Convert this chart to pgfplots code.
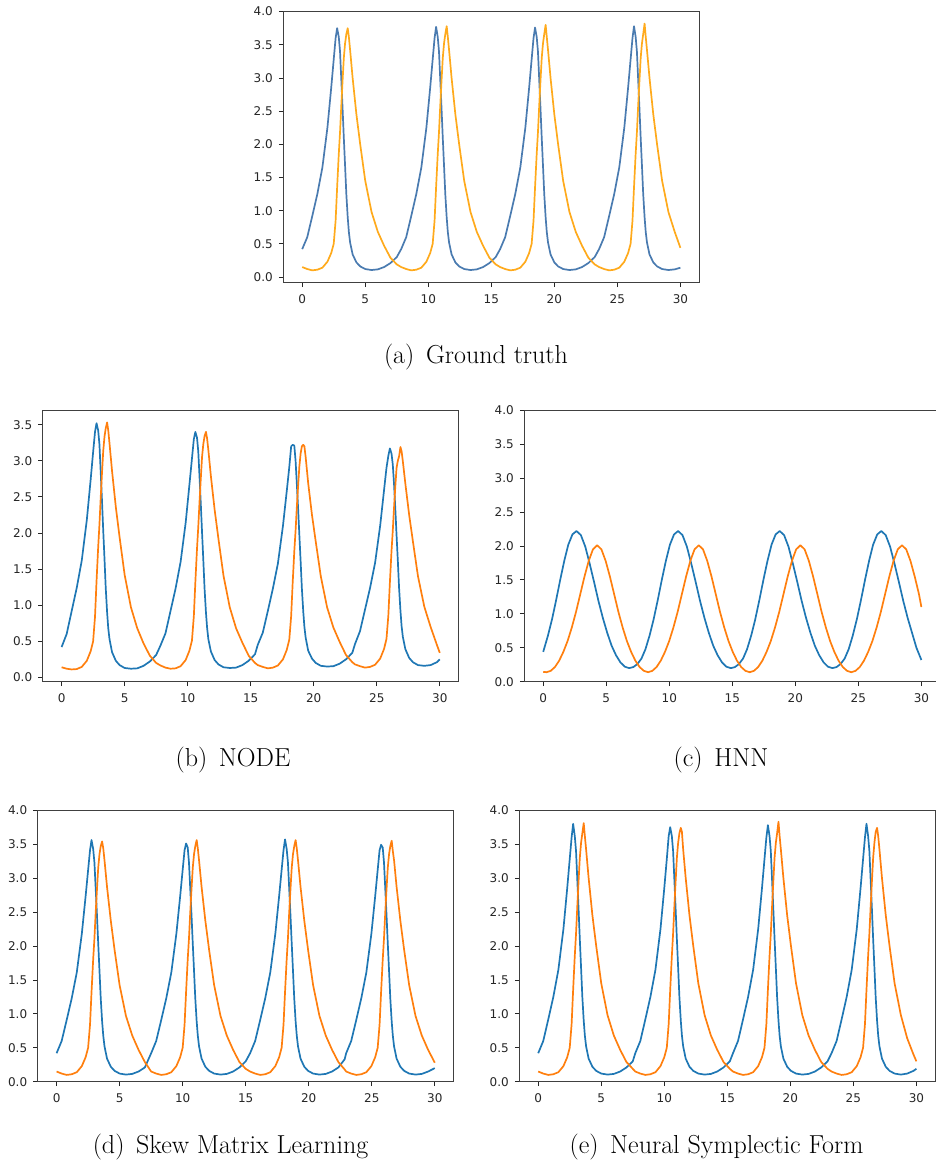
\documentclass[border=0pt]{standalone}
\usepackage{fontspec}
\usepackage{pgfplots}
\pgfplotsset{compat=1.18}
\newfontfamily\dejavu{DejaVu Sans}
\definecolor{bA}{HTML}{4A7BB0}
\definecolor{oA}{HTML}{FFAA1C}
\definecolor{bB}{HTML}{1F77B4}
\definecolor{oB}{HTML}{FF7F0E}
\pgfplotsset{
 myax/.style={
  scale only axis, width=416pt, height=271.5pt,
  xmin=-1.5, xmax=31.5,
  xtick={0,5,10,15,20,25,30},
  ytick={0,0.5,1,1.5,2,2.5,3,3.5,4},
  xtick pos=bottom, ytick pos=left,
  tick align=outside, major tick length=4.5pt,
  xticklabel shift=4pt, yticklabel shift=2.5pt,
  tick style={black!85, line width=0.8pt},
  axis line style={black!75, line width=0.9pt},
  tick label style={font=\dejavu\fontsize{12}{14}\selectfont, text=black!85},
  /pgf/number format/assume math mode=true,
  yticklabel style={/pgf/number format/fixed, /pgf/number format/fixed zerofill, /pgf/number format/precision=1},
  every axis plot/.append style={line width=1.7pt, line join=round, no marks},
  clip=true,
 }
}
\begin{document}
\begin{tikzpicture}
% (a) Ground truth
\begin{axis}[myax, at={(283.3pt,-282.7pt)}, anchor=south west, ymin=-0.086, ymax=4.006]
\addplot[bA] coordinates {(0,0.42)(0.4,0.60)(0.8,0.92)(1.2,1.25)(1.6,1.65)(2.0,2.25)(2.3,2.85)(2.5,3.28)(2.65,3.60)(2.77,3.75)(2.9,3.62)(3.0,3.40)(3.1,2.98)(3.2,2.55)(3.3,2.10)(3.4,1.68)(3.5,1.25)(3.61,0.90)(3.7,0.68)(3.8,0.52)(4.0,0.34)(4.3,0.22)(4.6,0.16)(5.0,0.12)(5.5,0.105)(6.0,0.115)(6.5,0.15)(7.0,0.21)(7.5,0.30)
(7.85,0.42)(8.25,0.60)(8.65,0.92)(9.05,1.25)(9.45,1.65)(9.85,2.25)(10.15,2.85)(10.35,3.28)(10.50,3.60)(10.62,3.77)(10.75,3.62)(10.85,3.40)(10.95,2.98)(11.05,2.55)(11.15,2.10)(11.25,1.68)(11.35,1.25)(11.46,0.90)(11.55,0.68)(11.65,0.52)(11.85,0.34)(12.15,0.22)(12.45,0.16)(12.85,0.12)(13.35,0.105)(13.85,0.115)(14.35,0.15)(14.85,0.21)(15.35,0.30)
(15.70,0.42)(16.10,0.60)(16.50,0.92)(16.90,1.25)(17.30,1.65)(17.70,2.25)(18.00,2.85)(18.20,3.28)(18.35,3.60)(18.47,3.76)(18.60,3.62)(18.70,3.40)(18.80,2.98)(18.90,2.55)(19.00,2.10)(19.10,1.68)(19.20,1.25)(19.31,0.90)(19.40,0.68)(19.50,0.52)(19.70,0.34)(20.00,0.22)(20.30,0.16)(20.70,0.12)(21.20,0.105)(21.70,0.115)(22.20,0.15)(22.70,0.21)(23.20,0.30)
(23.55,0.42)(23.95,0.60)(24.35,0.92)(24.75,1.25)(25.15,1.65)(25.55,2.25)(25.85,2.85)(26.05,3.28)(26.20,3.60)(26.32,3.78)(26.45,3.62)(26.55,3.40)(26.65,2.98)(26.75,2.55)(26.85,2.10)(26.95,1.68)(27.05,1.25)(27.16,0.90)(27.25,0.68)(27.35,0.52)(27.55,0.34)(27.85,0.22)(28.15,0.16)(28.55,0.12)(29.05,0.105)(29.55,0.115)(30.00,0.14)};
\addplot[oA] coordinates {(0,0.15)(0.4,0.12)(0.8,0.10)(1.2,0.11)(1.6,0.14)(2.0,0.23)(2.3,0.36)(2.5,0.50)(2.65,0.85)(2.77,1.35)(2.9,1.85)(3.0,2.18)(3.1,2.58)(3.2,2.95)(3.3,3.30)(3.4,3.52)(3.5,3.66)(3.61,3.75)(3.7,3.62)(3.8,3.42)(4.0,3.00)(4.3,2.45)(4.6,2.00)(5.0,1.45)(5.5,0.98)(6.0,0.68)(6.5,0.47)(7.0,0.29)(7.5,0.19)
(7.85,0.15)(8.25,0.12)(8.65,0.10)(9.05,0.11)(9.45,0.14)(9.85,0.23)(10.15,0.36)(10.35,0.50)(10.50,0.85)(10.62,1.35)(10.75,1.85)(10.85,2.18)(10.95,2.58)(11.05,2.95)(11.15,3.30)(11.25,3.52)(11.35,3.66)(11.46,3.78)(11.55,3.62)(11.65,3.42)(11.85,3.00)(12.15,2.45)(12.45,2.00)(12.85,1.45)(13.35,0.98)(13.85,0.68)(14.35,0.47)(14.85,0.29)(15.35,0.19)
(15.70,0.15)(16.10,0.12)(16.50,0.10)(16.90,0.11)(17.30,0.14)(17.70,0.23)(18.00,0.36)(18.20,0.50)(18.35,0.85)(18.47,1.35)(18.60,1.85)(18.70,2.18)(18.80,2.58)(18.90,2.95)(19.00,3.30)(19.10,3.52)(19.20,3.66)(19.31,3.80)(19.40,3.62)(19.50,3.42)(19.70,3.00)(20.00,2.45)(20.30,2.00)(20.70,1.45)(21.20,0.98)(21.70,0.68)(22.20,0.47)(22.70,0.29)(23.20,0.19)
(23.55,0.15)(23.95,0.12)(24.35,0.10)(24.75,0.11)(25.15,0.14)(25.55,0.23)(25.85,0.36)(26.05,0.50)(26.20,0.85)(26.32,1.35)(26.45,1.85)(26.55,2.18)(26.65,2.58)(26.75,2.95)(26.85,3.30)(26.95,3.52)(27.05,3.66)(27.16,3.82)(27.25,3.62)(27.35,3.42)(27.55,3.00)(27.85,2.45)(28.15,2.00)(28.55,1.45)(29.05,0.98)(29.55,0.68)(30.00,0.44)};
\end{axis}
% (b) NODE
\begin{axis}[myax, at={(42.7pt,-681.7pt)}, anchor=south west, ymin=-0.06, ymax=3.70, ytick={0,0.5,1,1.5,2,2.5,3,3.5}]
\addplot[bB] coordinates {(0,0.42)(0.4,0.60)(0.8,0.92)(1.2,1.24)(1.6,1.62)(2.0,2.18)(2.3,2.73)(2.5,3.12)(2.65,3.40)(2.77,3.52)(2.9,3.42)(3.0,3.23)(3.1,2.85)(3.2,2.46)(3.3,2.04)(3.4,1.65)(3.5,1.24)(3.61,0.90)(3.7,0.68)(3.8,0.53)(4.0,0.35)(4.3,0.23)(4.6,0.17)(5.0,0.13)(5.5,0.12)(6.0,0.125)(6.5,0.16)(7.0,0.22)(7.5,0.31)
(7.84,0.44)(8.24,0.61)(8.64,0.92)(9.04,1.23)(9.44,1.60)(9.84,2.14)(10.14,2.67)(10.34,3.03)(10.49,3.30)(10.61,3.40)(10.74,3.32)(10.84,3.13)(10.94,2.78)(11.04,2.41)(11.14,2.01)(11.24,1.63)(11.34,1.23)(11.45,0.90)(11.54,0.69)(11.64,0.53)(11.84,0.36)(12.14,0.24)(12.44,0.18)(12.84,0.14)(13.34,0.13)(13.84,0.135)(14.34,0.17)(14.84,0.23)(15.34,0.32)
(15.56,0.45)(15.96,0.62)(16.36,0.92)(16.76,1.23)(17.16,1.58)(17.56,2.10)(17.86,2.58)(18.06,2.91)(18.21,3.20)(18.33,3.22)(18.46,3.21)(18.56,3.00)(18.66,2.68)(18.76,2.34)(18.86,1.97)(18.96,1.61)(19.06,1.23)(19.17,0.91)(19.26,0.70)(19.36,0.55)(19.56,0.37)(19.86,0.26)(20.16,0.20)(20.56,0.16)(21.06,0.15)(21.56,0.155)(22.06,0.19)(22.56,0.25)(23.06,0.34)
(23.27,0.46)(23.67,0.64)(24.07,0.94)(24.47,1.24)(24.87,1.59)(25.27,2.10)(25.57,2.58)(25.77,2.90)(25.92,3.07)(26.04,3.17)(26.17,3.10)(26.27,2.95)(26.37,2.68)(26.47,2.34)(26.57,1.97)(26.67,1.62)(26.77,1.24)(26.88,0.92)(26.97,0.71)(27.07,0.56)(27.27,0.39)(27.57,0.27)(27.87,0.21)(28.27,0.17)(28.77,0.16)(29.27,0.17)(29.77,0.21)(30,0.25)};
\addplot[oB] coordinates {(0,0.14)(0.4,0.12)(0.8,0.11)(1.2,0.115)(1.6,0.145)(2.0,0.23)(2.3,0.36)(2.5,0.50)(2.65,0.84)(2.77,1.33)(2.9,1.80)(3.0,2.11)(3.1,2.48)(3.2,2.82)(3.3,3.13)(3.4,3.33)(3.5,3.45)(3.61,3.53)(3.7,3.42)(3.8,3.24)(4.0,2.86)(4.3,2.36)(4.6,1.94)(5.0,1.42)(5.5,0.97)(6.0,0.68)(6.5,0.47)(7.0,0.30)(7.5,0.20)
(7.84,0.165)(8.24,0.135)(8.64,0.12)(9.04,0.125)(9.44,0.155)(9.84,0.24)(10.14,0.37)(10.34,0.51)(10.49,0.85)(10.61,1.32)(10.74,1.78)(10.84,2.08)(10.94,2.43)(11.04,2.75)(11.14,3.05)(11.24,3.23)(11.34,3.34)(11.45,3.40)(11.54,3.31)(11.64,3.15)(11.84,2.79)(12.14,2.32)(12.44,1.92)(12.84,1.41)(13.34,0.97)(13.84,0.68)(14.34,0.48)(14.84,0.30)(15.34,0.20)
(15.56,0.17)(15.96,0.145)(16.36,0.125)(16.76,0.135)(17.16,0.165)(17.56,0.25)(17.86,0.38)(18.06,0.52)(18.21,0.85)(18.33,1.31)(18.46,1.75)(18.56,2.03)(18.66,2.36)(18.76,2.65)(18.86,2.92)(18.96,3.10)(19.06,3.20)(19.17,3.22)(19.26,3.20)(19.36,3.05)(19.56,2.69)(19.86,2.25)(20.16,1.88)(20.56,1.40)(21.06,0.97)(21.56,0.69)(22.06,0.49)(22.56,0.31)(23.06,0.21)
(23.27,0.18)(23.67,0.155)(24.07,0.135)(24.47,0.145)(24.87,0.175)(25.27,0.26)(25.57,0.39)(25.77,0.53)(25.92,0.86)(26.04,1.31)(26.17,1.75)(26.27,2.03)(26.37,2.35)(26.47,2.64)(26.57,2.90)(26.67,3.00)(26.77,3.06)(26.88,3.19)(26.97,3.13)(27.07,2.99)(27.27,2.68)(27.57,2.25)(27.87,1.88)(28.27,1.40)(28.77,0.98)(29.27,0.70)(29.77,0.45)(30,0.34)};
\end{axis}
% (c) HNN
\begin{axis}[myax, at={(524.3pt,-681.7pt)}, anchor=south west, ymin=0, ymax=4]
\addplot[bB] coordinates {(0,0.44)(0.377,0.68)(0.700,0.92)(1.023,1.20)(1.347,1.50)(1.670,1.78)(1.993,2.02)(2.317,2.17)(2.64,2.22)
(2.988,2.16)(3.337,1.99)(3.685,1.74)(4.033,1.47)(4.382,1.19)(4.730,0.94)(5.078,0.72)(5.427,0.53)(5.775,0.39)(6.123,0.285)(6.472,0.221)(6.82,0.20)
(7.143,0.215)(7.467,0.26)(7.79,0.34)(8.113,0.48)(8.437,0.68)(8.76,0.92)(9.083,1.20)(9.407,1.50)(9.73,1.78)(10.053,2.02)(10.377,2.17)(10.70,2.22)
(11.048,2.16)(11.397,1.99)(11.745,1.74)(12.093,1.47)(12.442,1.19)(12.79,0.94)(13.138,0.72)(13.487,0.53)(13.835,0.39)(14.183,0.285)(14.532,0.221)(14.88,0.20)
(15.203,0.215)(15.527,0.26)(15.85,0.34)(16.173,0.48)(16.497,0.68)(16.82,0.92)(17.143,1.20)(17.467,1.50)(17.79,1.78)(18.113,2.02)(18.437,2.17)(18.76,2.22)
(19.108,2.16)(19.457,1.99)(19.805,1.74)(20.153,1.47)(20.502,1.19)(20.85,0.94)(21.198,0.72)(21.547,0.53)(21.895,0.39)(22.243,0.285)(22.592,0.221)(22.94,0.20)
(23.263,0.215)(23.587,0.26)(23.91,0.34)(24.233,0.48)(24.557,0.68)(24.88,0.92)(25.203,1.20)(25.527,1.50)(25.85,1.78)(26.173,2.02)(26.497,2.17)(26.82,2.22)
(27.168,2.16)(27.517,1.99)(27.865,1.74)(28.213,1.47)(28.562,1.19)(28.91,0.94)(29.258,0.72)(29.607,0.50)(30,0.32)};
\addplot[oB] coordinates {(0,0.145)(0.26,0.14)(0.595,0.16)(0.93,0.216)(1.265,0.31)(1.60,0.44)(1.935,0.60)(2.27,0.80)(2.605,1.03)(2.94,1.29)(3.275,1.55)(3.61,1.78)(3.945,1.95)(4.28,2.01)
(4.617,1.95)(4.953,1.78)(5.29,1.55)(5.627,1.29)(5.963,1.03)(6.30,0.80)(6.637,0.60)(6.973,0.44)(7.31,0.31)(7.647,0.216)(7.983,0.16)(8.32,0.14)
(8.655,0.16)(8.99,0.216)(9.325,0.31)(9.66,0.44)(9.995,0.60)(10.33,0.80)(10.665,1.03)(11.0,1.29)(11.335,1.55)(11.67,1.78)(12.005,1.95)(12.34,2.01)
(12.677,1.95)(13.013,1.78)(13.35,1.55)(13.687,1.29)(14.023,1.03)(14.36,0.80)(14.697,0.60)(15.033,0.44)(15.37,0.31)(15.707,0.216)(16.043,0.16)(16.38,0.14)
(16.715,0.16)(17.05,0.216)(17.385,0.31)(17.72,0.44)(18.055,0.60)(18.39,0.80)(18.725,1.03)(19.06,1.29)(19.395,1.55)(19.73,1.78)(20.065,1.95)(20.40,2.01)
(20.737,1.95)(21.073,1.78)(21.41,1.55)(21.747,1.29)(22.083,1.03)(22.42,0.80)(22.757,0.60)(23.093,0.44)(23.43,0.31)(23.767,0.216)(24.103,0.16)(24.44,0.14)
(24.775,0.16)(25.11,0.216)(25.445,0.31)(25.78,0.44)(26.115,0.60)(26.45,0.80)(26.785,1.03)(27.12,1.29)(27.455,1.55)(27.79,1.78)(28.125,1.95)(28.46,2.01)
(28.797,1.95)(29.133,1.78)(29.47,1.55)(29.807,1.29)(30,1.10)};
\end{axis}
% (d) Skew Matrix Learning
\begin{axis}[myax, at={(37.7pt,-1081.7pt)}, anchor=south west, ymin=0, ymax=4]
\addplot[bB] coordinates {(0,0.42)(0.4,0.60)(0.8,0.91)(1.2,1.23)(1.6,1.61)(2.0,2.18)(2.3,2.73)(2.5,3.12)(2.65,3.41)(2.77,3.56)(2.9,3.43)(3.0,3.23)(3.1,2.85)(3.2,2.46)(3.3,2.04)(3.4,1.64)(3.5,1.23)(3.61,0.89)(3.7,0.68)(3.8,0.52)(4.0,0.34)(4.3,0.22)(4.6,0.16)(5.0,0.12)(5.5,0.105)(6.0,0.115)(6.5,0.15)(7.0,0.21)
(7.5,0.42)(7.9,0.60)(8.3,0.91)(8.7,1.23)(9.1,1.61)(9.5,2.18)(9.8,2.73)(10.0,3.12)(10.15,3.41)(10.27,3.51)(10.4,3.45)(10.5,3.23)(10.6,2.85)(10.7,2.46)(10.8,2.04)(10.9,1.64)(11.0,1.23)(11.11,0.89)(11.2,0.68)(11.3,0.52)(11.5,0.34)(11.8,0.22)(12.1,0.16)(12.5,0.12)(13.0,0.105)(13.5,0.115)(14.0,0.15)(14.5,0.21)(15.0,0.30)
(15.35,0.42)(15.75,0.60)(16.15,0.91)(16.55,1.23)(16.95,1.61)(17.35,2.18)(17.65,2.73)(17.85,3.12)(18.0,3.41)(18.12,3.57)(18.25,3.43)(18.35,3.23)(18.45,2.85)(18.55,2.46)(18.65,2.04)(18.75,1.64)(18.85,1.23)(18.96,0.89)(19.05,0.68)(19.15,0.52)(19.35,0.34)(19.65,0.22)(19.95,0.16)(20.35,0.12)(20.85,0.105)(21.35,0.115)(21.85,0.15)(22.35,0.21)(22.85,0.33)
(22.97,0.42)(23.37,0.60)(23.77,0.91)(24.17,1.23)(24.57,1.61)(24.97,2.18)(25.27,2.73)(25.47,3.12)(25.62,3.41)(25.74,3.49)(25.87,3.45)(25.97,3.23)(26.07,2.85)(26.17,2.46)(26.27,2.04)(26.37,1.64)(26.47,1.23)(26.58,0.89)(26.67,0.68)(26.77,0.52)(26.97,0.34)(27.27,0.22)(27.57,0.16)(27.97,0.12)(28.47,0.105)(28.97,0.115)(29.47,0.15)(30,0.20)};
\addplot[oB] coordinates {(0,0.15)(0.4,0.12)(0.8,0.10)(1.2,0.11)(1.6,0.14)(2.0,0.23)(2.3,0.36)(2.5,0.50)(2.65,0.84)(2.77,1.32)(2.9,1.80)(3.0,2.11)(3.1,2.49)(3.2,2.83)(3.3,3.15)(3.4,3.35)(3.5,3.47)(3.61,3.54)(3.7,3.44)(3.8,3.26)(4.0,2.87)(4.3,2.37)(4.6,1.94)(5.0,1.42)(5.5,0.97)(6.0,0.68)(6.5,0.47)(7.0,0.29)
(7.5,0.15)(7.9,0.12)(8.3,0.10)(8.7,0.11)(9.1,0.14)(9.5,0.23)(9.8,0.36)(10.0,0.50)(10.15,0.84)(10.27,1.32)(10.4,1.80)(10.5,2.11)(10.6,2.49)(10.7,2.83)(10.8,3.15)(10.9,3.35)(11.0,3.47)(11.11,3.56)(11.2,3.44)(11.3,3.26)(11.5,2.87)(11.8,2.37)(12.1,1.94)(12.5,1.42)(13.0,0.97)(13.5,0.68)(14.0,0.47)(14.5,0.29)(15.0,0.19)
(15.35,0.15)(15.75,0.12)(16.15,0.10)(16.55,0.11)(16.95,0.14)(17.35,0.23)(17.65,0.36)(17.85,0.50)(18.0,0.84)(18.12,1.32)(18.25,1.80)(18.35,2.11)(18.45,2.49)(18.55,2.83)(18.65,3.15)(18.75,3.35)(18.85,3.47)(18.96,3.56)(19.05,3.44)(19.15,3.26)(19.35,2.87)(19.65,2.37)(19.95,1.94)(20.35,1.42)(20.85,0.97)(21.35,0.68)(21.85,0.47)(22.35,0.29)(22.85,0.18)
(22.97,0.15)(23.37,0.12)(23.77,0.10)(24.17,0.11)(24.57,0.14)(24.97,0.23)(25.27,0.36)(25.47,0.50)(25.62,0.84)(25.74,1.32)(25.87,1.80)(25.97,2.11)(26.07,2.49)(26.17,2.83)(26.27,3.15)(26.37,3.35)(26.47,3.47)(26.58,3.55)(26.67,3.40)(26.77,3.26)(26.97,2.87)(27.27,2.37)(27.57,1.94)(27.97,1.42)(28.47,0.97)(28.97,0.68)(29.47,0.47)(30,0.28)};
\end{axis}
% (e) Neural Symplectic Form
\begin{axis}[myax, at={(519.3pt,-1081.7pt)}, anchor=south west, ymin=0, ymax=4]
\addplot[bB] coordinates {(0,0.42)(0.4,0.60)(0.8,0.92)(1.2,1.25)(1.6,1.65)(2.0,2.25)(2.3,2.85)(2.5,3.28)(2.65,3.60)(2.77,3.80)(2.9,3.62)(3.0,3.40)(3.1,2.98)(3.2,2.55)(3.3,2.10)(3.4,1.68)(3.5,1.25)(3.61,0.90)(3.7,0.68)(3.8,0.52)(4.0,0.34)(4.3,0.22)(4.6,0.16)(5.0,0.12)(5.5,0.105)(6.0,0.115)(6.5,0.15)(7.0,0.21)(7.5,0.30)
(7.7,0.42)(8.1,0.60)(8.5,0.92)(8.9,1.25)(9.3,1.65)(9.7,2.25)(10.0,2.85)(10.2,3.28)(10.35,3.62)(10.47,3.75)(10.6,3.62)(10.7,3.40)(10.8,2.98)(10.9,2.55)(11.0,2.10)(11.1,1.68)(11.2,1.25)(11.31,0.90)(11.4,0.68)(11.5,0.52)(11.7,0.34)(12.0,0.22)(12.3,0.16)(12.7,0.12)(13.2,0.105)(13.7,0.115)(14.2,0.15)(14.7,0.21)(15.2,0.30)
(15.45,0.42)(15.85,0.60)(16.25,0.92)(16.65,1.25)(17.05,1.65)(17.45,2.25)(17.75,2.85)(17.95,3.28)(18.1,3.60)(18.22,3.78)(18.35,3.62)(18.45,3.40)(18.55,2.98)(18.65,2.55)(18.75,2.10)(18.85,1.68)(18.95,1.25)(19.06,0.90)(19.15,0.68)(19.25,0.52)(19.45,0.34)(19.75,0.22)(20.05,0.16)(20.45,0.12)(20.95,0.105)(21.45,0.115)(21.95,0.15)(22.45,0.21)(22.95,0.30)
(23.27,0.42)(23.67,0.60)(24.07,0.92)(24.47,1.25)(24.87,1.65)(25.27,2.25)(25.57,2.85)(25.77,3.28)(25.92,3.60)(26.04,3.80)(26.17,3.62)(26.27,3.40)(26.37,2.98)(26.47,2.55)(26.57,2.10)(26.67,1.68)(26.77,1.25)(26.88,0.90)(26.97,0.68)(27.07,0.52)(27.27,0.34)(27.57,0.22)(27.87,0.16)(28.27,0.12)(28.77,0.105)(29.27,0.12)(29.77,0.16)(30,0.19)};
\addplot[oB] coordinates {(0,0.15)(0.4,0.12)(0.8,0.10)(1.2,0.11)(1.6,0.14)(2.0,0.23)(2.3,0.36)(2.5,0.50)(2.65,0.85)(2.77,1.35)(2.9,1.85)(3.0,2.18)(3.1,2.58)(3.2,2.95)(3.3,3.30)(3.4,3.52)(3.5,3.66)(3.61,3.81)(3.7,3.62)(3.8,3.42)(4.0,3.00)(4.3,2.45)(4.6,2.00)(5.0,1.45)(5.5,0.98)(6.0,0.68)(6.5,0.47)(7.0,0.29)(7.5,0.19)
(7.7,0.15)(8.1,0.12)(8.5,0.10)(8.9,0.11)(9.3,0.14)(9.7,0.23)(10.0,0.36)(10.2,0.50)(10.35,0.85)(10.47,1.35)(10.6,1.85)(10.7,2.18)(10.8,2.58)(10.9,2.95)(11.0,3.30)(11.1,3.52)(11.2,3.66)(11.31,3.74)(11.4,3.68)(11.5,3.42)(11.7,3.00)(12.0,2.45)(12.3,2.00)(12.7,1.45)(13.2,0.98)(13.7,0.68)(14.2,0.47)(14.7,0.29)(15.2,0.19)
(15.45,0.15)(15.85,0.12)(16.25,0.10)(16.65,0.11)(17.05,0.14)(17.45,0.23)(17.75,0.36)(17.95,0.50)(18.1,0.85)(18.22,1.35)(18.35,1.85)(18.45,2.18)(18.55,2.58)(18.65,2.95)(18.75,3.30)(18.85,3.52)(18.95,3.66)(19.06,3.83)(19.15,3.62)(19.25,3.42)(19.45,3.00)(19.75,2.45)(20.05,2.00)(20.45,1.45)(20.95,0.98)(21.45,0.68)(21.95,0.47)(22.45,0.29)(22.95,0.19)
(23.27,0.15)(23.67,0.12)(24.07,0.10)(24.47,0.11)(24.87,0.14)(25.27,0.23)(25.57,0.36)(25.77,0.50)(25.92,0.85)(26.04,1.35)(26.17,1.85)(26.27,2.18)(26.37,2.58)(26.47,2.95)(26.57,3.30)(26.67,3.52)(26.77,3.68)(26.88,3.74)(26.97,3.62)(27.07,3.42)(27.27,3.00)(27.57,2.45)(27.87,2.00)(28.27,1.45)(28.77,0.98)(29.27,0.64)(29.77,0.40)(30,0.30)};
\end{axis}
% captions
\node[anchor=base, font=\fontsize{26}{31}\selectfont] at (476pt,-363pt) {(a)\hspace{0.45em}Ground truth};
\node[anchor=base, font=\fontsize{26}{31}\selectfont] at (233pt,-766pt) {(b)\hspace{0.45em}NODE};
\node[anchor=base, font=\fontsize{26}{31}\selectfont] at (721pt,-766pt) {(c)\hspace{0.45em}HNN};
\node[anchor=base, font=\fontsize{26}{31}\selectfont] at (230.5pt,-1153pt) {(d)\hspace{0.45em}Skew Matrix Learning};
\node[anchor=base, font=\fontsize{26}{31}\selectfont] at (716.5pt,-1153pt) {(e)\hspace{0.45em}Neural Symplectic Form};
\pgfresetboundingbox
\path[use as bounding box] (0pt,0pt) rectangle (936pt,-1170pt);
\end{tikzpicture}
\end{document}
